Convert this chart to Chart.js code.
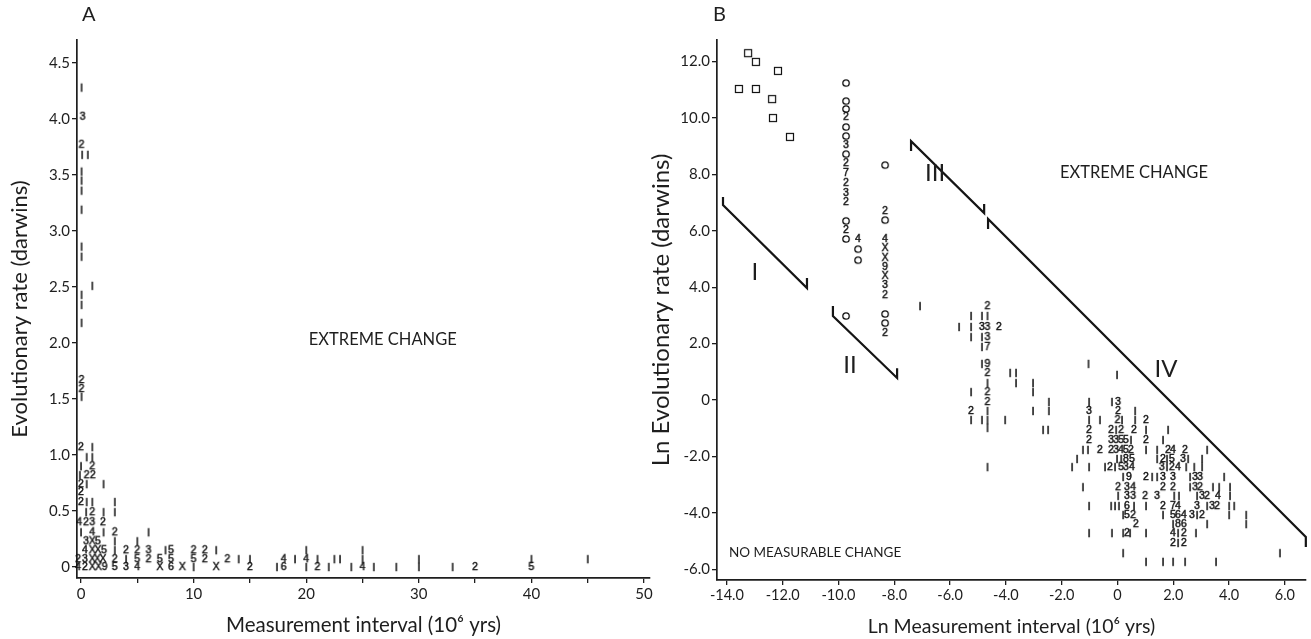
<!DOCTYPE html>
<html><head><meta charset="utf-8">
<script src="https://cdn.jsdelivr.net/npm/chart.js@4/dist/chart.umd.min.js"></script>
<style>
body{margin:0;background:#fff;width:1311px;height:639px;overflow:hidden;position:relative;}
#ca{position:absolute;left:0;top:0;}
#cb{position:absolute;left:640px;top:0;}
.pl{position:absolute;top:1px;font:20px Lato,sans-serif;color:#1e1e1e;}
</style></head><body>
<canvas id="ca" width="660" height="639"></canvas>
<canvas id="cb" width="671" height="639"></canvas>
<div class="pl" style="left:82px">A</div>
<div class="pl" style="left:713px">B</div>
<script>
// ---------- Panel A data: rate (darwins) vs interval (10^6 yrs); glyph = count / symbol ----------
const aTicksX = [0,5,10,15,20,25,30,35,40,45,50];
const aTickLabelsX = ['0','','10','','20','','30','','40','','50'];
const aTicksY = [0,0.5,1,1.5,2,2.5,3,3.5,4,4.5];
const aTickLabelsY = ['0','0.5','1.0','1.5','2.0','2.5','3.0','3.5','4.0','4.5'];
const aUpper = [
 [0.05,4.28,'1'],[0.15,4.02,'3'],[0.05,3.77,'2'],[0.1,3.68,'1'],[0.6,3.68,'1'],
 [0.05,3.53,'1'],[0.05,3.45,'1'],[0.05,3.36,'1'],[0.05,3.19,'1'],[0.05,2.86,'1'],[0.05,2.77,'1'],
 [1.0,2.51,'1'],[0.05,2.43,'1'],[0.05,2.34,'1'],[0.05,2.18,'1'],[0.05,1.67,'2'],[0.05,1.59,'2'],[0.05,1.52,'1']
];
const aRows = [
 [1.07,[[0,'2'],[1,'1']]],
 [0.98,[[0.5,'1'],[1,'1']]],
 [0.90,[[0,'1'],[1,'2']]],
 [0.82,[[-0.1,'1'],[0.5,'2'],[1.05,'2']]],
 [0.74,[[0,'2'],[0.5,'1'],[2,'1']]],
 [0.67,[[0,'2']]],
 [0.58,[[0,'2'],[0.5,'1'],[1,'1'],[3,'1']]],
 [0.49,[[0.45,'1'],[1,'2'],[2,'1'],[3,'1']]],
 [0.40,[[-0.15,'4'],[0.45,'2'],[1,'3'],[1.95,'2']]],
 [0.31,[[0,'1'],[1,'4'],[2,'1'],[3,'2'],[6,'1']]],
 [0.23,[[0.45,'3'],[1,'X'],[1.5,'5'],[3,'1'],[5,'1']]],
 [0.15,[[0.35,'4'],[1,'X'],[1.5,'X'],[2.05,'5'],[3,'1'],[4,'2'],[5,'2'],[6,'3'],[7.5,'1'],[8,'5'],[10,'2'],[11,'2'],[12,'1'],[20,'1'],[25,'1']]],
 [0.07,[[-0.25,'2'],[0.35,'3'],[1,'X'],[1.45,'X'],[1.95,'X'],[3,'2'],[4,'1'],[5,'5'],[6,'2'],[7,'5'],[8,'5'],[10,'5'],[11,'2'],[13,'2'],[14,'1'],[15,'1'],[18,'4'],[19,'1'],[20,'4'],[21,'1'],[22.5,'1'],[23,'1'],[25,'1'],[30,'1'],[40,'1'],[45,'1']]],
 [0.0,[[-0.25,'4'],[0.35,'2'],[1,'X'],[1.55,'X'],[2.1,'9'],[3,'5'],[4,'3'],[5,'4'],[7,'X'],[8,'6'],[9,'X'],[10,'1'],[12,'X'],[15,'2'],[17.4,'1'],[18,'6'],[20,'1'],[21,'2'],[22,'1'],[24,'1'],[25,'4'],[26,'1'],[28,'1'],[30,'1'],[33,'1'],[35,'2'],[40,'5']]]
];

// ---------- Panel B data: ln rate vs ln interval ----------
const bTicksX = [-14,-12,-10,-8,-6,-4,-2,0,2,4,6];
const bTickLabelsX = ['-14.0','-12.0','-10.0','-8.0','-6.0','-4.0','-2.0','0','2.0','4.0','6.0'];
const bTicksY = [-6,-4,-2,0,2,4,6,8,10,12];
const bTickLabelsY = ['-6.0','-4.0','-2.0','0','2.0','4.0','6.0','8.0','10.0','12.0'];
const bSquares = [[-13.24,12.30],[-12.96,11.99],[-12.17,11.67],[-13.57,11.03],[-12.96,11.03],[-12.38,10.67],[-12.35,10.0],[-11.74,9.33]];
const bColumns = [
 [-9.73,[[11.24,'o'],[10.60,'o'],[10.32,'o'],[10.04,'2'],[9.68,'o'],[9.36,'o'],[9.04,'3'],[8.72,'o'],[8.40,'2'],[8.05,'7'],[7.70,'2'],[7.34,'3'],[7.02,'2'],[6.35,'o'],[6.03,'2'],[5.71,'o'],[2.98,'o']]],
 [-9.30,[[5.71,'4'],[5.35,'o'],[4.96,'o']]],
 [-8.33,[[8.33,'o'],[6.70,'2'],[6.38,'o'],[5.71,'4'],[5.39,'X'],[5.04,'X'],[4.72,'9'],[4.40,'X'],[4.08,'3'],[3.72,'2'],[3.05,'o'],[2.73,'o'],[2.38,'2']]]
];
const bRows = [
 [3.33,[[-7.08,'1'],[-4.66,'2']]],
 [2.98,[[-5.25,'1'],[-4.86,'1'],[-4.66,'1']]],
 [2.59,[[-5.68,'1'],[-5.25,'1'],[-4.86,'3'],[-4.66,'3'],[-4.25,'2']]],
 [2.23,[[-5.25,'1'],[-4.86,'1'],[-4.66,'3']]],
 [1.88,[[-4.86,'1'],[-4.66,'7']]],
 [1.28,[[-4.86,'1'],[-4.66,'9'],[-1.04,'1']]],
 [0.96,[[-4.66,'2'],[-3.85,'1'],[-3.64,'1']]],
 [0.89,[[-0.02,'1']]],
 [0.60,[[-4.66,'1'],[-3.64,'1'],[-3.03,'1']]],
 [0.28,[[-5.25,'1'],[-4.66,'2'],[-3.03,'1']]],
 [-0.07,[[-4.66,'2'],[-2.46,'1'],[-1.02,'1'],[-0.2,'1'],[0.02,'3']]],
 [-0.39,[[-5.25,'2'],[-4.66,'1'],[-3.03,'1'],[-2.46,'1'],[-1.02,'3'],[0.02,'2'],[0.63,'1']]],
 [-0.71,[[-5.25,'1'],[-4.86,'1'],[-4.66,'1'],[-4.03,'1'],[-1.02,'1'],[-0.63,'1'],[0,'2'],[0.16,'1'],[0.63,'1'],[1.02,'2']]],
 [-0.99,[[-4.66,'1']]],
 [-1.06,[[-2.67,'1'],[-2.49,'1'],[-1.02,'2'],[-0.23,'2'],[-0.05,'1'],[0.13,'2'],[0.59,'2'],[1.02,'1'],[1.81,'1']]],
 [-1.42,[[-1.02,'2'],[-0.23,'3'],[-0.05,'3'],[0.13,'5'],[0.3,'5'],[0.48,'1'],[1.02,'2'],[1.63,'1']]],
 [-1.77,[[-1.24,'1'],[-1.06,'1'],[-0.63,'2'],[-0.23,'2'],[-0.05,'3'],[0.13,'4'],[0.3,'5'],[0.48,'2'],[1.02,'1'],[1.42,'1'],[1.81,'2'],[1.99,'4'],[2.42,'2'],[3.21,'1']]],
 [-2.09,[[-1.45,'1'],[-0.02,'1'],[0.13,'1'],[0.3,'8'],[0.52,'5'],[1.42,'1'],[1.63,'2'],[1.77,'1'],[1.95,'5'],[2.35,'3'],[2.53,'1'],[3.03,'1']]],
 [-2.38,[[-4.66,'1'],[-1.63,'1'],[-1.02,'1'],[-0.45,'1'],[-0.27,'2'],[-0.09,'1'],[0.13,'5'],[0.3,'3'],[0.52,'4'],[1.59,'3'],[1.77,'1'],[1.95,'2'],[2.17,'4'],[2.46,'1'],[2.75,'1'],[3.03,'1']]],
 [-2.73,[[0.2,'1'],[0.41,'9'],[1.02,'2'],[1.24,'1'],[1.42,'1'],[1.63,'3'],[1.99,'3'],[2.6,'1'],[2.78,'3'],[2.96,'3'],[3.82,'1']]],
 [-3.09,[[-1.24,'1'],[0.02,'2'],[0.34,'3'],[0.56,'4'],[1.63,'2'],[1.99,'2'],[2.6,'1'],[2.78,'3'],[2.96,'2'],[3.42,'1'],[3.64,'1'],[4.03,'1']]],
 [-3.40,[[0.02,'1'],[0.34,'3'],[0.56,'3'],[0.99,'2'],[1.42,'3'],[2.03,'1'],[2.2,'1'],[2.85,'1'],[3.03,'3'],[3.21,'2'],[3.6,'4'],[4.03,'1']]],
 [-3.76,[[-1.02,'1'],[-0.23,'1'],[-0.09,'1'],[0.05,'1'],[0.34,'6'],[0.59,'1'],[1.02,'1'],[1.63,'2'],[1.99,'7'],[2.17,'4'],[2.85,'3'],[3.21,'1'],[3.39,'3'],[3.57,'2'],[4.0,'1'],[4.18,'1']]],
 [-4.08,[[0.2,'1'],[0.34,'5'],[0.56,'2'],[1.63,'1'],[1.99,'5'],[2.17,'6'],[2.38,'4'],[2.67,'3'],[2.85,'1'],[3.03,'2'],[4.0,'1'],[4.61,'1']]],
 [-4.40,[[0.66,'2'],[1.99,'1'],[2.17,'8'],[2.38,'6'],[3.21,'1'],[4.61,'1']]],
 [-4.72,[[-1.02,'1'],[-0.2,'1'],[0.2,'1'],[0.34,'2'],[0.45,'1'],[1.02,'1'],[1.99,'4'],[2.17,'1'],[2.38,'2'],[2.81,'1']]],
 [-5.07,[[1.99,'2'],[2.17,'1'],[2.38,'2']]],
 [-5.43,[[0.2,'1'],[5.82,'1']]],
 [-5.74,[[1.02,'1'],[1.63,'1'],[1.99,'1'],[2.42,'1'],[3.53,'1']]]
];
// boundary lines (slope -1 in ln-ln space), with end hooks
const lineI   = [[-14.14,7.20],[-14.14,6.91],[-11.13,3.97],[-11.13,4.33]];
const lineII  = [[-10.20,3.33],[-10.20,2.98],[-7.90,0.78],[-7.90,1.13]];
const lineIII = [[-7.40,8.83],[-7.40,9.18],[-4.78,6.63],[-4.78,6.95]];
const lineIV  = [[-4.64,6.06],[-4.64,6.42],[6.75,-4.86],[6.75,-5.21]];

// ---------- helpers ----------
const INK = '#1e1e1e';
const cache = {};
function glyph(g){
  if (cache[g]) return cache[g];
  const c = document.createElement('canvas'); c.width = 12; c.height = 12;
  const k = c.getContext('2d');
  k.strokeStyle = k.fillStyle = '#111';
  if (g === '1') { k.fillRect(5.3, 1.8, 1.5, 8.4); }
  else if (g === 'o') { k.lineWidth = 1.3; k.beginPath(); k.arc(6, 6, 3.2, 0, Math.PI*2); k.stroke(); }
  else if (g === 's') { k.lineWidth = 1.2; k.strokeRect(2.5, 2.5, 7, 7); }
  else { k.font = '10.5px "Liberation Sans"'; k.textAlign = 'center'; k.textBaseline = 'middle';
         k.lineWidth = 0.45; k.fillText(g, 6, 6.6); k.strokeText(g, 6, 6.6); }
  cache[g] = c; return c;
}
const annot = {
  id: 'annot',
  afterDatasetsDraw(chart, args, opts) {
    const {ctx, scales: {x, y}} = chart;
    ctx.save(); ctx.fillStyle = INK; ctx.textAlign = 'center'; ctx.textBaseline = 'middle';
    for (const t of opts.items) { ctx.font = t.font; ctx.fillText(t.text, x.getPixelForValue(t.x), y.getPixelForValue(t.y)); }
    ctx.restore();
  }
};
function glyphSet(points){
  return { data: points, pointStyle: c => (c.raw ? glyph(c.raw.g) : 'circle'), pointRadius: 3,
           pointBorderWidth: 0, backgroundColor: 'rgba(0,0,0,0)', borderColor: 'rgba(0,0,0,0)', clip: false };
}
function lineSet(arr){
  return { data: arr.map(p => ({x: p[0], y: p[1]})), showLine: true, pointRadius: 0, borderColor: '#151515',
           borderWidth: 2.2, borderJoinStyle: 'miter', backgroundColor: 'rgba(0,0,0,0)', clip: false };
}
function axis(min, max, ticks, labels, fit, title, titleSize, titlePad, size){
  return {
    type: 'linear', min, max,
    afterBuildTicks: s => { s.ticks = ticks.map(v => ({value: v})); },
    afterFit: fit,
    ticks: { autoSkip: false, maxRotation: 0, padding: 2, color: INK, font: {family: 'Lato', size: size},
             callback: v => { const i = ticks.indexOf(v); return i < 0 ? '' : labels[i]; } },
    grid: { drawOnChartArea: false, drawTicks: true, tickLength: 5, color: INK, lineWidth: 1.3 },
    border: { display: true, color: INK, width: 1.7 },
    title: { display: true, text: title, color: INK, font: {family: 'Lato', size: titleSize}, padding: titlePad }
  };
}
const common = { responsive: false, animation: false, events: [],
  plugins: { legend: {display: false}, tooltip: {enabled: false} } };

// ---------- Panel A ----------
const aPoints = aUpper.map(p => ({x: p[0], y: p[1], g: p[2]}));
aRows.forEach(([yv, row]) => row.forEach(([xv, g]) => aPoints.push({x: xv, y: yv, g})));
new Chart(document.getElementById('ca'), {
  type: 'scatter',
  data: { datasets: [glyphSet(aPoints)] },
  plugins: [annot],
  options: Object.assign({}, common, {
    layout: { padding: {top: 40, right: 10, left: 0, bottom: 0} },
    plugins: Object.assign({}, common.plugins, { annot: { items: [
      {text: 'EXTREME CHANGE', x: 26.8, y: 2.03, font: '16.5px Lato'} ] } }),
    scales: {
      x: axis(-0.355, 50.53, aTicksX, aTickLabelsX, s => { s.height = 61; }, 'Measurement interval (10\u2076 yrs)', 20.5, {top: 0, bottom: 1}, 15),
      y: axis(-0.098, 4.705, aTicksY, aTickLabelsY, s => { s.width = 77; }, 'Evolutionary rate (darwins)', 22, {top: 7, bottom: 0}, 15)
    }
  })
});

// ---------- Panel B ----------
const bPoints = bSquares.map(p => ({x: p[0], y: p[1], g: 's'}));
bColumns.forEach(([xv, col]) => col.forEach(([yv, g]) => bPoints.push({x: xv, y: yv, g})));
bRows.forEach(([yv, row]) => row.forEach(([xv, g]) => bPoints.push({x: xv, y: yv, g})));
new Chart(document.getElementById('cb'), {
  type: 'scatter',
  data: { datasets: [glyphSet(bPoints), lineSet(lineI), lineSet(lineII), lineSet(lineIII), lineSet(lineIV)] },
  plugins: [annot],
  options: Object.assign({}, common, {
    layout: { padding: {top: 40, right: 5, left: 0, bottom: 0} },
    plugins: Object.assign({}, common.plugins, { annot: { items: [
      {text: 'EXTREME CHANGE', x: 0.59, y: 8.05, font: '16.5px Lato'},
      {text: 'NO MEASURABLE CHANGE', x: -10.84, y: -5.43, font: '13.5px Lato'},
      {text: 'I', x: -13.0, y: 4.54, font: '24px Lato'},
      {text: 'II', x: -9.59, y: 1.24, font: '24px Lato'},
      {text: 'III', x: -6.54, y: 8.05, font: '24px Lato'},
      {text: 'IV', x: 1.74, y: 1.1, font: '24px Lato'} ] } }),
    scales: {
      x: axis(-14.355, 6.756, bTicksX, bTickLabelsX, s => { s.height = 59; }, 'Ln Measurement interval (10\u2076 yrs)', 19.5, {top: 0, bottom: 1}, 14.5),
      y: axis(-6.383, 12.766, bTicksY, bTickLabelsY, s => { s.width = 77; }, 'Ln Evolutionary rate (darwins)', 24, {top: 7, bottom: 0}, 15)
    }
  })
});
</script>
</body></html>
